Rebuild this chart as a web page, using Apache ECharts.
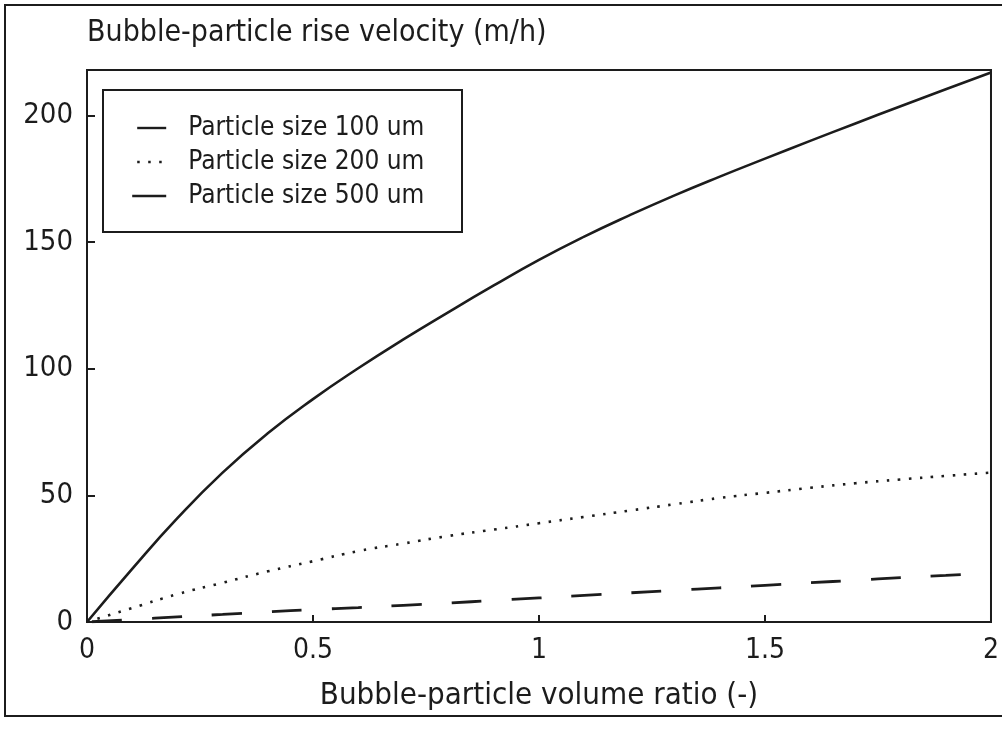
<!DOCTYPE html>
<html>
<head>
<meta charset="utf-8">
<title>Bubble-particle rise velocity</title>
<script src="https://cdn.jsdelivr.net/npm/echarts@6/dist/echarts.min.js"></script>
<style>
  html, body { margin: 0; padding: 0; background: #fff; }
  #chart { width: 1002px; height: 729px; }
</style>
</head>
<body>
<div id="chart"></div>
<script>
// Bubble-particle volume ratio (-)
const ratio = [0, 0.1, 0.2, 0.3, 0.4, 0.5, 0.6, 0.7, 0.8, 0.9, 1.0,
               1.1, 1.2, 1.3, 1.4, 1.5, 1.6, 1.7, 1.8, 1.9, 2.0];
// Rise velocity (m/h) for each particle size
const size100 = [0, 1.0, 2.0, 3.0, 4.0, 4.9, 5.7, 6.6, 7.5, 8.5, 9.5,
                 10.5, 11.5, 12.5, 13.5, 14.5, 15.5, 16.5, 17.5, 18.4, 19.3];
const size200 = [0, 5.5, 11, 15.5, 20, 24, 28, 31, 34, 36.5, 39,
                 41.5, 44, 46.5, 49, 51, 53, 54.8, 56.3, 57.7, 59];
const size500 = [0, 21, 41, 59, 74.5, 88, 100.2, 111.6, 122.4, 132.9, 143,
                 152.2, 160.6, 168.5, 175.9, 183, 190, 196.9, 203.7, 210.4, 217];
const seriesNames = ['Particle size 100 um', 'Particle size 200 um', 'Particle size 500 um'];
const xTicks = ['0', '0.5', '1', '1.5', '2'];

const ink = '#1c1c1c';
const font = "'Liberation Sans Narrow', 'DejaVu Sans Condensed', sans-serif";

const pairs = ys => ratio.map((x, i) => [x, ys[i]]);

const chart = echarts.init(document.getElementById('chart'), null, { renderer: 'canvas' });
chart.setOption({
  backgroundColor: '#fff',
  animation: false,
  title: {
    text: 'Bubble-particle rise velocity (m/h)',
    left: 82, top: 13,
    textStyle: { fontFamily: font, fontSize: 30, fontWeight: 'normal', color: ink }
  },
  grid: {
    left: 87, right: 10, top: 70, bottom: 107,
    show: true, borderColor: ink, borderWidth: 2, backgroundColor: 'transparent'
  },
  legend: {
    orient: 'vertical',
    left: 131, top: 111,
    padding: 0,
    itemGap: 0,
    itemWidth: 34, itemHeight: 2,
    itemStyle: { opacity: 0 },
    lineStyle: { width: 2.4 },
    data: seriesNames,
    textStyle: { fontFamily: font, fontSize: 26, lineHeight: 34, color: ink, padding: [0, 0, 0, 17] }
  },
  xAxis: {
    type: 'value',
    min: 0, max: 2, interval: 0.5,
    name: 'Bubble-particle volume ratio (-)',
    nameLocation: 'middle', nameGap: 58,
    nameTextStyle: { fontFamily: font, fontSize: 31, color: ink },
    axisLine: { lineStyle: { color: ink, width: 2 } },
    axisTick: { inside: true, length: 7, lineStyle: { color: ink, width: 2 } },
    axisLabel: {
      fontFamily: font, fontSize: 28, color: ink, margin: 15,
      formatter: v => xTicks[Math.round(v / 0.5)]
    },
    splitLine: { show: false }
  },
  yAxis: {
    type: 'value',
    min: 0, max: 218, interval: 50,
    axisLine: { show: true, lineStyle: { color: ink, width: 2 } },
    axisTick: { show: true, inside: true, length: 8, lineStyle: { color: ink, width: 2 } },
    axisLabel: {
      fontFamily: font, fontSize: 29, color: ink, margin: 14,
      showMaxLabel: false
    },
    splitLine: { show: false }
  },
  series: [
    {
      name: seriesNames[0], type: 'line', data: pairs(size100),
      smooth: true, symbol: 'none', itemStyle: { color: ink },
      lineStyle: { color: ink, width: 2.8, type: [30, 30], dashOffset: -5 }
    },
    {
      name: seriesNames[1], type: 'line', data: pairs(size200),
      smooth: true, symbol: 'none', itemStyle: { color: ink },
      lineStyle: { color: ink, width: 2.6, type: [2.5, 8.5] }
    },
    {
      name: seriesNames[2], type: 'line', data: pairs(size500),
      smooth: true, symbol: 'none', itemStyle: { color: ink },
      lineStyle: { color: ink, width: 2.6, type: 'solid' }
    }
  ],
  graphic: [
    {
      type: 'rect', silent: true,
      shape: { x: 5, y: 5, width: 1010, height: 711 },
      style: { fill: 'none', stroke: ink, lineWidth: 2 }
    },
    {
      type: 'rect', silent: true,
      shape: { x: 103, y: 90, width: 359, height: 142 },
      style: { fill: 'none', stroke: ink, lineWidth: 2 }
    }
  ]
});
</script>
</body>
</html>
